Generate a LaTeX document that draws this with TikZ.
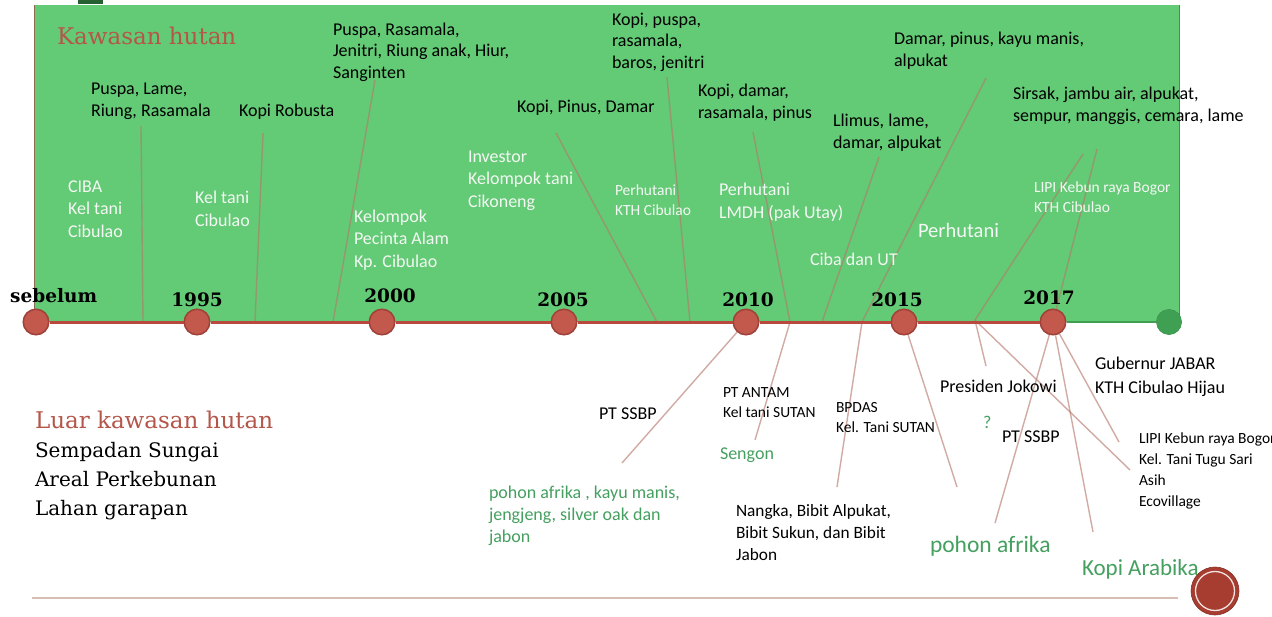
\documentclass[tikz,border=0pt]{standalone}
\usepackage{fontspec}
\setmainfont{Carlito}
\newfontfamily\rockf{DejaVu Serif}
\definecolor{forest}{HTML}{63CA75}
\definecolor{forestdark}{HTML}{3F9F52}
\definecolor{titlered}{HTML}{B4564A}
\definecolor{tlred}{HTML}{B9493E}
\definecolor{dotred}{HTML}{C3594C}
\definecolor{dotedge}{HTML}{A0423A}
\definecolor{connclr}{HTML}{B5786C}
\definecolor{txtgreen}{HTML}{45A060}
\definecolor{offwhite}{HTML}{F4F8F4}
\definecolor{baseclr}{HTML}{D6BFB2}
\definecolor{sealred}{HTML}{A63D30}
\begin{document}
\begin{tikzpicture}[x=1pt,y=-1pt,
  txt/.style={anchor=base west, align=left, inner sep=0pt, outer sep=0pt},
  blk/.style={txt, text=black, font=\fontsize{18}{21.5}\selectfont},
  wht/.style={txt, text=offwhite, font=\fontsize{18}{22.5}\selectfont},
  smallblk/.style={txt, text=black, font=\fontsize{15.5}{20}\selectfont},
  smallwht/.style={txt, text=offwhite, font=\fontsize{15.5}{20}\selectfont},
  grn/.style={txt, text=txtgreen, font=\fontsize{18}{22}\selectfont},
  year/.style={anchor=base, inner sep=0pt, text=black, font=\rockf\bfseries\fontsize{18.5}{20}\selectfont},
  rtitle/.style={txt, text=titlered, font=\rockf\fontsize{23}{26}\selectfont},
  conn/.style={draw=connclr, draw opacity=0.62, line width=1.4pt},
  dot/.style={circle, fill=dotred, draw=dotedge, line width=1pt, minimum size=26pt, inner sep=0pt},
  gdot/.style={circle, fill=forestdark, draw=forestdark!85!black, line width=0.6pt, minimum size=25pt, inner sep=0pt}
]
\useasboundingbox (0,0) rectangle (1272,616);
\fill[white] (0,0) rectangle (1272,616);

% forest area
\fill[forest] (34,5) rectangle (1179,322);
\draw[draw=dotedge!70!forest, line width=1pt] (34,5) -- (34,322);
\draw[draw=dotedge!70!forest, line width=1pt] (1179,5) -- (1179,322);
\fill[forestdark!60!black] (78,0) rectangle (103,4);

% coordinates of connector ends
\coordinate (a1) at (141,126);  \coordinate (t1) at (143,322);
\coordinate (a2) at (263,133);  \coordinate (t2) at (255,322);
\coordinate (a3) at (375,80);   \coordinate (t3) at (333,322);
\coordinate (a4) at (556,133);  \coordinate (t4) at (657,322);
\coordinate (a5) at (667,77);   \coordinate (t5) at (690,322);
\coordinate (a6) at (753,132);  \coordinate (t6) at (790,322);
\coordinate (a7) at (879,157);  \coordinate (t7) at (822,322);
\coordinate (a8) at (986,78);   \coordinate (t8) at (862,322);
\coordinate (a9) at (1083,154); \coordinate (t9) at (975,320);
\coordinate (a10) at (1097,149);
\coordinate (e11) at (622,463);
\coordinate (e12) at (755,440);
\coordinate (e13) at (837,487);
\coordinate (e14) at (957,487);
\coordinate (e15) at (986,366);
\coordinate (e16) at (1130,470);
\coordinate (e17) at (995,523);
\coordinate (e18) at (1093,532);
\coordinate (e19) at (1119,442);

% timeline circles (named nodes)
\node[dot]  (c0) at (36,322) {};
\node[dot]  (c1) at (197,322) {};
\node[dot]  (c2) at (382,322) {};
\node[dot]  (c3) at (564,322) {};
\node[dot]  (c4) at (746,322) {};
\node[dot]  (c5) at (904,322) {};
\node[dot]  (c6) at (1053,322) {};
\node[gdot] (cg) at (1169,322) {};

% connectors
\draw[conn] (a1) -- (t1);
\draw[conn] (a2) -- (t2);
\draw[conn] (a3) -- (t3);
\draw[conn] (a4) -- (t4);
\draw[conn] (a5) -- (t5);
\draw[conn] (a6) -- (t6);
\draw[conn] (a7) -- (t7);
\draw[conn] (a8) -- (t8);
\draw[conn] (a9) -- (t9);
\draw[conn] (a10) -- (c6);
\draw[conn] (c4) -- (e11);
\draw[conn] (t6) -- (e12);
\draw[conn] (t8) -- (e13);
\draw[conn] (c5) -- (e14);
\draw[conn] (t9) -- (e15);
\draw[conn] (t9) -- (e16);
\draw[conn] (c6) -- (e17);
\draw[conn] (c6) -- (e18);
\draw[conn] (c6) -- (e19);

% timeline
\draw[tlred, line width=3pt] (c0) -- (c1) -- (c2) -- (c3) -- (c4) -- (c5) -- (c6);
\draw[forestdark, line width=2pt] (c6) -- (cg);
% redraw circles on top
\foreach \p in {(36,322),(197,322),(382,322),(564,322),(746,322),(904,322),(1053,322)}
  \fill[dotred] \p circle (12.5pt);
\foreach \p in {(36,322),(197,322),(382,322),(564,322),(746,322),(904,322),(1053,322)}
  \draw[dotedge, line width=1pt] \p circle (12.5pt);
\fill[forestdark] (1169,322) circle (12.5pt);

% years
\node[year, anchor=base west] (ysb) at (10,302) {sebelum};
\node[year] (y95) at (197,306) {1995};
\node[year] (y00) at (390,302) {2000};
\node[year] (y05) at (563,306) {2005};
\node[year] (y10) at (748,306) {2010};
\node[year] (y15) at (897,306) {2015};
\node[year] (y17) at (1049,304) {2017};

% titles (multi-line nodes are placed at the baseline of their last line)
\node[rtitle] (kh) at (57,44) {Kawasan hutan};
\node[rtitle] (lkh) at (35,428) {Luar kawasan hutan};
\node[txt, text=black, font=\rockf\fontsize{20}{28.6}\selectfont] (lk) at (35,515) {Sempadan Sungai\\Areal Perkebunan\\Lahan garapan};

% plants inside the forest
\node[blk] (n1) at (91,116) {Puspa, Lame,\\Riung, Rasamala};
\node[blk] (n2) at (239,116) {Kopi Robusta};
\node[blk] (n3) at (333,78) {Puspa, Rasamala,\\Jenitri, Riung anak, Hiur,\\Sanginten};
\node[blk] (n4) at (612,68) {Kopi, puspa,\\rasamala,\\baros, jenitri};
\node[blk] (n5) at (517,112) {Kopi, Pinus, Damar};
\node[blk] (n6) at (698,118) {Kopi, damar,\\rasamala, pinus};
\node[blk] (n7) at (833,148) {Llimus, lame,\\damar, alpukat};
\node[blk] (n8) at (894,66) {Damar, pinus, kayu manis,\\alpukat};
\node[blk] (n9) at (1013,121) {Sirsak, jambu air, alpukat,\\sempur, manggis, cemara, lame};

% actors inside the forest
\node[wht] (w1) at (68,237) {CIBA\\Kel tani\\Cibulao};
\node[wht] (w2) at (195,226) {Kel tani\\Cibulao};
\node[wht] (w3) at (354,267) {Kelompok\\Pecinta Alam\\Kp. Cibulao};
\node[wht] (w4) at (468,207) {Investor\\Kelompok tani\\Cikoneng};
\node[smallwht] (w5) at (615,215) {Perhutani\\KTH Cibulao};
\node[wht] (w6) at (719,218) {Perhutani\\LMDH (pak Utay)};
\node[wht] (w7) at (810,265) {Ciba dan UT};
\node[txt, text=offwhite, font=\fontsize{20.5}{24}\selectfont] (w8) at (918,237) {Perhutani};
\node[smallwht] (w9) at (1034,212) {LIPI Kebun raya Bogor\\KTH Cibulao};

% outside the forest
\node[blk] (b3) at (599,419) {PT SSBP};
\node[grn] (b4) at (489,542) {pohon afrika , kayu manis,\\jengjeng, silver oak dan\\jabon};
\node[smallblk] (b5) at (723,417) {PT ANTAM\\Kel tani SUTAN};
\node[grn] (b6) at (720,459) {Sengon};
\node[smallblk] (b7) at (836,432) {BPDAS\\Kel. Tani SUTAN};
\node[txt, text=black, font=\fontsize{17.3}{22}\selectfont] (b8) at (736,560) {Nangka, Bibit Alpukat,\\Bibit Sukun, dan Bibit\\Jabon};
\node[blk] (b9) at (940,392) {Presiden Jokowi};
\node[grn] (b10) at (983,428) {?};
\node[blk] (b11) at (1002,442) {PT SSBP};
\node[txt, text=txtgreen, font=\fontsize{23.5}{26}\selectfont] (b12) at (930,552) {pohon afrika};
\node[txt, text=black, font=\fontsize{18}{24}\selectfont] (b13) at (1095,393) {Gubernur JABAR\\KTH Cibulao Hijau};
\node[txt, text=black, font=\fontsize{15.5}{21}\selectfont] (b14) at (1139,506) {LIPI Kebun raya Bogor\\Kel. Tani Tugu Sari\\Asih\\Ecovillage};
\node[txt, text=txtgreen, font=\fontsize{23}{26}\selectfont] (b15) at (1082,575) {Kopi Arabika};

% footer line and seal
\draw[baseclr, line width=1.5pt] (32,598) -- (1178,598);
\node[circle, fill=sealred, draw=sealred!80!black, line width=0.6pt, minimum size=48pt, inner sep=0pt] (seal) at (1215,591) {};
\draw[white!85!sealred, line width=1.3pt] (seal.center) circle (19.5pt);
\end{tikzpicture}
\end{document}
